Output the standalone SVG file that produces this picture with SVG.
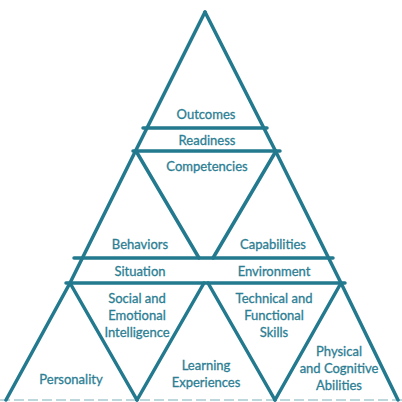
<svg xmlns="http://www.w3.org/2000/svg" width="402" height="402" viewBox="0 0 402 402">
  <style>
    .edge { stroke: #23798e; stroke-width: 3.5; stroke-linecap: round; fill: none; }
    .base { stroke: #23798e; stroke-width: 2; stroke-opacity: 0.3; stroke-dasharray: 10 4; fill: none; }
    .label { font-family: Lato, "Open Sans", sans-serif; font-size: 13px; fill: #2b7e93; text-anchor: middle; stroke: #2b7e93; stroke-width: 0.3; }
  </style>
  <rect width="402" height="402" fill="#ffffff"/>

  <!-- pyramid frame and dividing lines -->
  <g id="connectors">
    <polyline class="edge" points="205,12 136,150 70,283 6,400"/>
    <polyline class="edge" points="205,12 275,150 341,283 398,400"/>
    <line class="edge" x1="143" y1="128" x2="267" y2="128"/>
    <line class="edge" x1="133" y1="151" x2="280" y2="151"/>
    <line class="edge" x1="74" y1="258" x2="333" y2="258"/>
    <line class="edge" x1="66" y1="283" x2="345" y2="283"/>
    <line class="edge" x1="136" y1="151" x2="199" y2="258"/>
    <line class="edge" x1="276" y1="151" x2="213" y2="258"/>
    <line class="edge" x1="70" y1="283" x2="137" y2="400"/>
    <line class="edge" x1="204" y1="283" x2="137" y2="400"/>
    <line class="edge" x1="208" y1="283" x2="275" y2="400"/>
    <line class="edge" x1="341" y1="283" x2="275" y2="400"/>
    <line class="base" x1="0" y1="400" x2="402" y2="400"/>
  </g>

  <g id="outcomes"><text class="label" x="206" y="119">Outcomes</text></g>
  <g id="readiness"><text class="label" x="207" y="145">Readiness</text></g>
  <g id="competencies"><text class="label" x="207" y="171">Competencies</text></g>
  <g id="behaviors"><text class="label" x="140" y="249">Behaviors</text></g>
  <g id="capabilities"><text class="label" x="273" y="249">Capabilities</text></g>
  <g id="situation"><text class="label" x="140" y="276">Situation</text></g>
  <g id="environment"><text class="label" x="274" y="276">Environment</text></g>
  <g id="social-emotional">
    <text class="label" x="137" y="303">Social and</text>
    <text class="label" x="137" y="320">Emotional</text>
    <text class="label" x="137" y="337">Intelligence</text>
  </g>
  <g id="technical-functional">
    <text class="label" x="274" y="303">Technical and</text>
    <text class="label" x="274" y="320">Functional</text>
    <text class="label" x="274" y="337">Skills</text>
  </g>
  <g id="personality"><text class="label" x="71" y="384">Personality</text></g>
  <g id="learning">
    <text class="label" x="206" y="370">Learning</text>
    <text class="label" x="206" y="387">Experiences</text>
  </g>
  <g id="physical-cognitive">
    <text class="label" x="339" y="356">Physical</text>
    <text class="label" x="339" y="373">and Cognitive</text>
    <text class="label" x="339" y="390">Abilities</text>
  </g>
</svg>
